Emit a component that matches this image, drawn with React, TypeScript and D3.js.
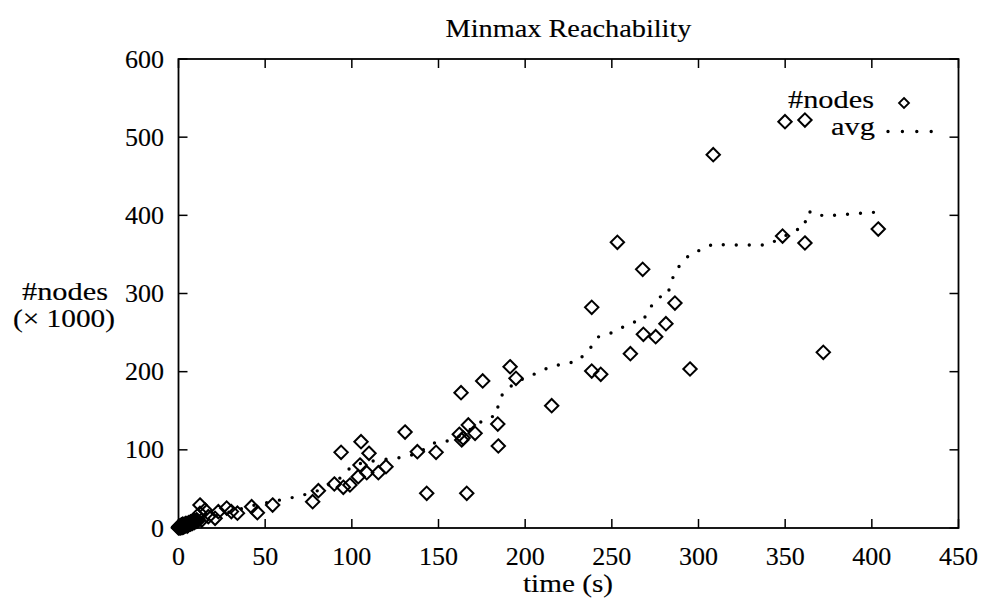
import React from "react";
import * as d3 from "d3";

// ---- data (time in s, #nodes in thousands) ----
// dense cluster of tiny runs near the origin
const clusterTimes: number[] = [
  0, 0, 0.3, 0.5, 0.8, 1, 1, 1.3, 1.5, 1.8, 2, 2, 2.3, 2.5, 2.8, 3, 3.2, 3.5, 3.8, 4,
  4.3, 4.5, 5, 5, 5.5, 5.5, 6, 6, 6.5, 7, 7, 7.5, 8, 8, 8.5, 9, 9.5, 10, 10.5, 11,
];
const clusterNodes: number[] = [
  0, 1, 2, 0.5, 1.5, 0, 3, 1, 2, 4, 0.5, 3, 2, 5, 1, 3, 4, 2, 5, 3,
  6, 4, 2.5, 5, 6, 3.5, 4.5, 7, 6, 5, 8, 7, 6, 9, 8, 7, 9, 8, 10, 9,
];
const pointTimes: number[] = [
  10.5, 13.4, 12.4, 15.3, 12.4, 17.2, 21.1, 23.0, 27.8, 30.5, 34,
  42.2, 45.5, 54.3, 77.4, 80.7, 89.9, 93.8, 95.1, 98.9, 103.7, 104.7, 105.3, 108.6, 109.9,
  115.3, 119.7, 130.7, 137.8, 143.2, 148.6, 162.0, 163.4, 164.2, 163.0, 166.3, 167.2, 171.1,
  175.5, 184.2, 184.5, 191.3, 194.7, 215.3, 238.4, 238.4, 243.6, 253.2, 260.7, 267.8, 268.2,
  275.3, 281.2, 286.4, 295.1, 308.5, 348.5, 349.9, 361.4, 361.4, 372.0, 403.7,
];
const pointNodes: number[] = [
  10.2, 10.2, 29.4, 23.0, 18.8, 14.5, 12.4, 20.9, 25.5, 21, 19,
  27.2, 19.6, 29.4, 33.6, 47.7, 56.3, 96.8, 52.1, 55.0, 65.6, 80.6, 110.4, 70.7, 95.6,
  70.7, 78.4, 122.8, 97.6, 44.4, 96.8, 119.9, 112.6, 115.1, 173.1, 44.4, 131.8, 121.1,
  188.1, 133.0, 104.9, 206.3, 191.5, 156.5, 282.3, 200.8, 196.6, 365.5, 223.0, 330.9, 247.8,
  244.7, 261.4, 287.8, 203.4, 477.6, 373.5, 519.8, 364.6, 521.9, 224.7, 382.5,
];

const avgTimes: number[] = [
  0.3, 12.4, 29.7, 44.1, 70.1, 81.6, 93.2, 100.1, 107.6, 116.3, 130.7, 138.2, 148.6, 156.7,
  163.6, 170.5, 176.8, 183.8, 184.6, 187.8, 194.7, 201.6, 209.1, 215.5, 222.4, 230.5, 238.0,
  242.0, 249.5, 256.4, 262.8, 268.0, 271.4, 277.2, 281.8, 284.1, 286.4, 291.6, 295.1, 302.6,
  308.4, 316.4, 339.5, 348.8, 356.2, 361.4, 362.0, 366.6, 371.8, 379.9, 403.5,
];
const avgNodes: number[] = [
  1.3, 10.2, 20.5, 29.4, 40.9, 48.6, 63.9, 79.3, 84.4, 87.0, 90.8, 95.9, 110.0, 111.7,
  119.0, 129.2, 139.4, 144.5, 162.5, 174.0, 186.8, 193.2, 200.8, 207.2, 209.8, 213.6, 231.5,
  244.3, 249.5, 257.1, 263.5, 264.8, 280.2, 295.5, 296.8, 312.1, 328.8, 341.6, 350.5, 356.9,
  363.3, 362.0, 362.0, 372.3, 381.2, 385.1, 403.0, 405.5, 399.1, 400.4, 404.2,
];

const xTicks: number[] = [0, 50, 100, 150, 200, 250, 300, 350, 400, 450];
const yTicks: number[] = [0, 100, 200, 300, 400, 500, 600];

const titleText = "Minmax Reachability";
const xLabelText = "time (s)";
const yLabelLines: string[] = ["#nodes", "(\u00d7 1000)"];
const legendLabels: string[] = ["#nodes", "avg"];

const FONT = "'Liberation Serif', 'DejaVu Serif', serif";

export default function App() {
  const W = 986;
  const H = 603;
  const left = 178.5;
  const right = 958.5;
  const top = 59;
  const bottom = 528;

  const x = d3.scaleLinear().domain([0, 450]).range([left, right]);
  const y = d3.scaleLinear().domain([0, 600]).range([bottom, top]);

  const diamond = (cx: number, cy: number, r: number) =>
    `M${cx},${cy - r}L${cx + r},${cy}L${cx},${cy + r}L${cx - r},${cy}Z`;

  const avgData = avgTimes.map((t, i) => [t, avgNodes[i]] as [number, number]);
  const line = d3
    .line<[number, number]>()
    .x((d) => x(d[0]))
    .y((d) => y(d[1]));

  const allTimes = clusterTimes.concat(pointTimes);
  const allNodes = clusterNodes.concat(pointNodes);

  const tickLen = 9;
  const sw = 1.8;
  const txt = { fontFamily: FONT, fontSize: 26, stroke: "#000", strokeWidth: 0.15 } as const;

  return (
    <svg
      width={W}
      height={H}
      viewBox={`0 0 ${W} ${H}`}
      style={{ position: "absolute", left: 0, top: 0, background: "#fff" }}
    >
      <rect x={0} y={0} width={W} height={H} fill="#fff" />
      {/* title */}
      <text
        x={(left + right) / 2}
        y={37}
        textAnchor="middle"
        {...txt}
        textLength={246}
        lengthAdjust="spacingAndGlyphs"
      >
        {titleText}
      </text>

      {/* frame */}
      <rect
        x={left}
        y={top}
        width={right - left}
        height={bottom - top}
        fill="none"
        stroke="#000"
        strokeWidth={sw}
      />

      {/* x ticks */}
      {xTicks.map((t) => (
        <g key={"xt" + t}>
          <line x1={x(t)} x2={x(t)} y1={bottom} y2={bottom - tickLen} stroke="#000" strokeWidth={1.5} />
          <line x1={x(t)} x2={x(t)} y1={top} y2={top + tickLen} stroke="#000" strokeWidth={1.5} />
          <text x={x(t)} y={565} textAnchor="middle" {...txt}>
            {t}
          </text>
        </g>
      ))}

      {/* y ticks */}
      {yTicks.map((t) => (
        <g key={"yt" + t}>
          <line x1={left} x2={left + tickLen} y1={y(t)} y2={y(t)} stroke="#000" strokeWidth={1.5} />
          <line x1={right} x2={right - tickLen} y1={y(t)} y2={y(t)} stroke="#000" strokeWidth={1.5} />
          <text x={164} y={y(t) + 8.5} textAnchor="end" {...txt}>
            {t}
          </text>
        </g>
      ))}

      {/* axis labels */}
      <text x={568} y={592} textAnchor="middle" {...txt} textLength={90} lengthAdjust="spacingAndGlyphs">
        {xLabelText}
      </text>
      <text x={65} y={300} textAnchor="middle" {...txt} textLength={86} lengthAdjust="spacingAndGlyphs">
        {yLabelLines[0]}
      </text>
      <text x={64} y={327} textAnchor="middle" {...txt} textLength={102} lengthAdjust="spacingAndGlyphs">
        {yLabelLines[1]}
      </text>

      {/* avg dotted line */}
      <path
        d={line(avgData) || ""}
        fill="none"
        stroke="#000"
        strokeWidth={3.4}
        strokeLinecap="round"
        strokeDasharray="0 13"
      />

      {/* diamonds */}
      {allTimes.map((t, i) => (
        <path
          key={"p" + i}
          d={diamond(x(t), y(allNodes[i]), 6.7)}
          fill="none"
          stroke="#000"
          strokeWidth={2}
        />
      ))}

      {/* legend */}
      <text x={874} y={108} textAnchor="end" {...txt} textLength={86} lengthAdjust="spacingAndGlyphs">
        {legendLabels[0]}
      </text>
      <path d={diamond(904, 103, 5)} fill="none" stroke="#000" strokeWidth={1.8} />
      <text x={875} y={135} textAnchor="end" {...txt} textLength={44} lengthAdjust="spacingAndGlyphs">
        {legendLabels[1]}
      </text>
      <path
        d={`M888,131.5L932,131.5`}
        fill="none"
        stroke="#000"
        strokeWidth={3.4}
        strokeLinecap="round"
        strokeDasharray="0 14.4"
      />
    </svg>
  );
}
